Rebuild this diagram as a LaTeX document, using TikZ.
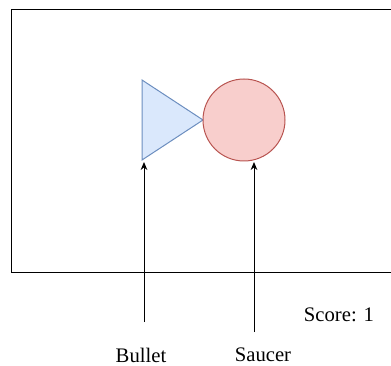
\documentclass[tikz,border=0pt]{standalone}
\usepackage{fontspec}
\setmainfont{Liberation Serif}
\usetikzlibrary{arrows.meta}

\definecolor{bulletfill}{HTML}{DAE8FC}
\definecolor{bulletline}{HTML}{6C8EBF}
\definecolor{saucerfill}{HTML}{F8CECC}
\definecolor{saucerline}{HTML}{B85450}

\tikzset{
    label text/.style={font=\fontsize{15.5}{18}\selectfont, inner sep=0pt},
    pointer/.style={-{Stealth[length=6pt,width=5pt]}, line width=0.75pt}
}

\begin{document}
\begin{tikzpicture}[x=0.75pt, y=-0.75pt]
    \useasboundingbox (0,0) rectangle (391,366);
    % game area
    \draw[line width=0.75pt] (391,10) -- (11,10) -- (11,272) -- (391,272);
    % bullet
    \filldraw[fill=bulletfill, draw=bulletline, line width=0.75pt]
        (142,80) -- (203,120) -- (142,160) -- cycle;
    \coordinate (bullettip) at (144,162);
    % saucer
    \node[circle, fill=saucerfill, draw=saucerline, line width=0.75pt,
          minimum size=61.5pt, inner sep=0pt] (saucer) at (244,120) {};
    \coordinate (saucertip) at (254,162);
    % score
    \node[label text] (score) at (339,315) {Score: 1};
    % labels
    \node[label text] (bulletlabel) at (141,355) {Bullet};
    \node[label text] (saucerlabel) at (263,355) {Saucer};
    \coordinate (bulletstart) at (144,322);
    \coordinate (saucerstart) at (254,332);
    % pointers
    \draw[pointer] (bulletstart) -- (bullettip);
    \draw[pointer] (saucerstart) -- (saucertip);
\end{tikzpicture}
\end{document}
